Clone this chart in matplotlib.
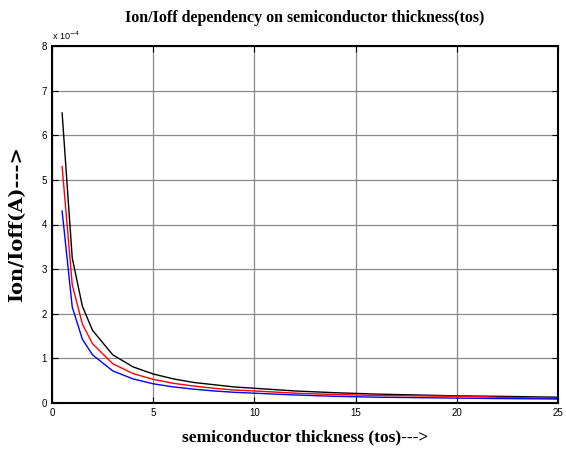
import matplotlib
matplotlib.use('Agg')
import matplotlib.pyplot as plt
from matplotlib import font_manager

# thickness values (tos)
tos = [0.5, 1, 1.5, 2, 3, 4, 5, 6, 7, 8, 9, 10, 12, 14, 16, 18, 20, 22, 25]

# Ion/Ioff, in units of 1e-4
black_vals = [6.5, 3.25, 2.17, 1.63, 1.08, 0.81, 0.65, 0.54, 0.46, 0.41, 0.36,
              0.33, 0.27, 0.23, 0.20, 0.18, 0.16, 0.15, 0.13]
red_vals = [5.3, 2.65, 1.77, 1.33, 0.88, 0.66, 0.53, 0.44, 0.38, 0.33, 0.29,
            0.27, 0.22, 0.19, 0.17, 0.16, 0.15, 0.13, 0.10]
blue_vals = [4.3, 2.15, 1.43, 1.08, 0.72, 0.54, 0.43, 0.36, 0.31, 0.27, 0.24,
             0.22, 0.18, 0.15, 0.13, 0.12, 0.11, 0.10, 0.09]

xticks = [0, 5, 10, 15, 20, 25]
yticks = [0, 1, 2, 3, 4, 5, 6, 7, 8]

names = {f.name for f in font_manager.fontManager.ttflist}
narrow = 'Liberation Sans Narrow' if 'Liberation Sans Narrow' in names else 'Liberation Sans'
serif = 'Liberation Serif'

fig = plt.figure(figsize=(5.66, 4.55), dpi=100)
ax = fig.add_axes([52 / 566, 52 / 455, 506 / 566, 357 / 455])

ax.plot(tos, black_vals, color='black', lw=1.0)
ax.plot(tos, red_vals, color='red', lw=1.0)
ax.plot(tos, blue_vals, color='blue', lw=1.0)

ax.set_xlim(0, 25)
ax.set_ylim(0, 8)
ax.set_xticks(xticks)
ax.set_yticks(yticks)
ax.grid(True, color='#8a8a8a', lw=0.9)
ax.tick_params(direction='in', length=4, width=0.8, top=True, right=True,
               labelsize=7)
for lab in ax.get_xticklabels() + ax.get_yticklabels():
    lab.set_fontfamily(narrow)
for sp in ax.spines.values():
    sp.set_linewidth(1.5)

ax.text(0, 1.01, r'x 10$^{-4}$', transform=ax.transAxes, fontsize=6.5,
        family=narrow, ha='left', va='bottom')

ax.set_title('Ion/Ioff dependency on semiconductor thickness(tos)',
             family=serif, fontweight='bold', fontsize=11.5, pad=17)
ax.set_xlabel('semiconductor thickness (tos)--->', family=serif,
              fontweight='bold', fontsize=12.5, labelpad=8)
ax.set_ylabel('Ion/Ioff(A)--->', family='DejaVu Serif', fontweight='bold',
              fontsize=14, labelpad=11)

fig.savefig('out.png', dpi=100)
